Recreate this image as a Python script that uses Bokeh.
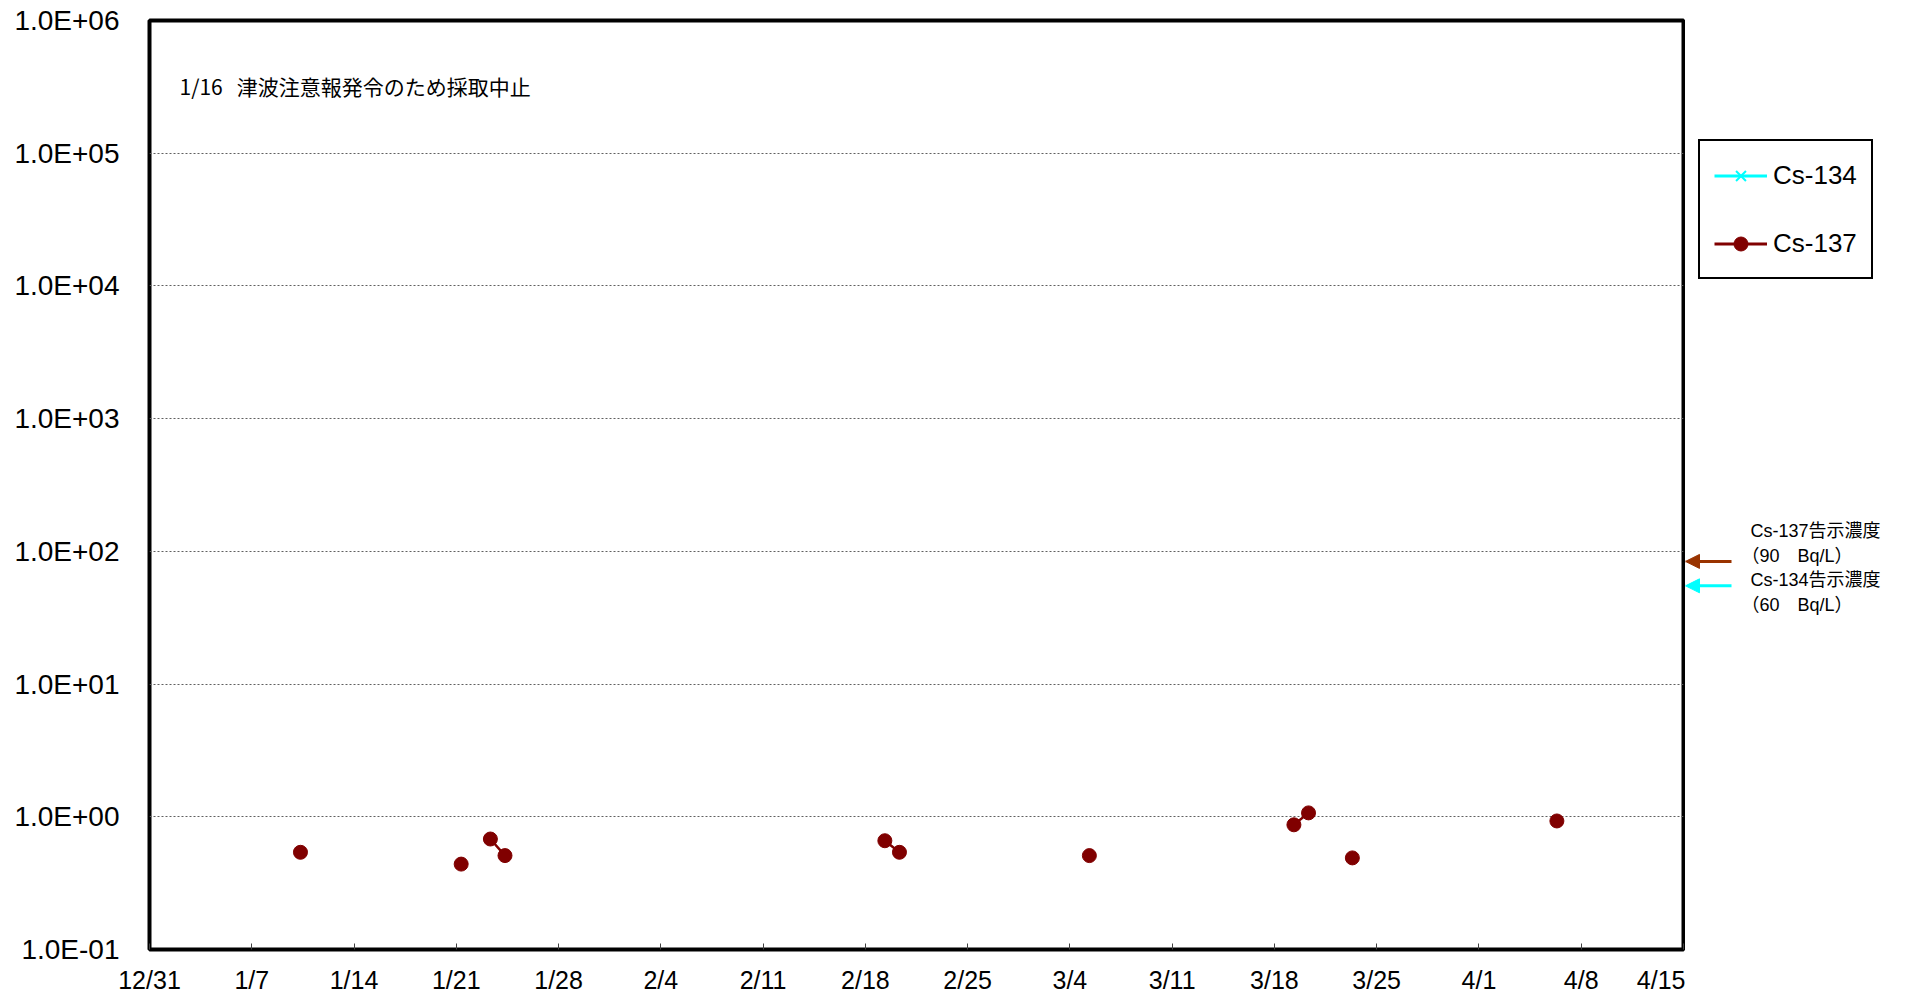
from datetime import datetime, timedelta

from bokeh.plotting import figure
from bokeh.layouts import row
from bokeh.models import (Range1d, FixedTicker, CustomJSTickFormatter, Legend,
                          LegendItem, Label, Arrow, NormalHead)
from bokeh.embed import file_html
from bokeh.resources import INLINE

# ---------------- data ----------------
x_tick_dates = ["2021-12-31", "2022-01-07", "2022-01-14", "2022-01-21",
                "2022-01-28", "2022-02-04", "2022-02-11", "2022-02-18",
                "2022-02-25", "2022-03-04", "2022-03-11", "2022-03-18",
                "2022-03-25", "2022-04-01", "2022-04-08", "2022-04-15"]
y_ticks = [0.1, 1, 10, 100, 1000, 10000, 100000, 1000000]

cs137_dates = ["2022-01-10", "2022-01-21", "2022-01-23", "2022-01-24",
               "2022-02-19", "2022-02-20", "2022-03-05", "2022-03-19",
               "2022-03-20", "2022-03-23", "2022-04-06"]
cs137_values = [0.54, 0.44, 0.68, 0.51, 0.66, 0.54, 0.51, 0.87, 1.07, 0.49, 0.93]
cs134_dates = []      # not detected
cs134_values = []
sample_hour = 8

limit_names = ["Cs-137告示濃度", "Cs-134告示濃度"]
limit_texts = ["（90　Bq/L）", "（60　Bq/L）"]
limit_values = [90, 60]
arrow_levels = [84, 55]          # where the arrows sit in the picture
limit_colors = ["#993300", "#00FFFF"]
note_text = "1/16\u00a0\u00a0\u00a0津波注意報発令のため採取中止"

# ---------------- helpers ----------------
def to_dt(s, hour=0):
    return datetime.strptime(s, "%Y-%m-%d") + timedelta(hours=hour)

def to_ms(d):
    return (d - datetime(1970, 1, 1)).total_seconds() * 1000.0

x_ticks_ms = [to_ms(to_dt(s)) for s in x_tick_dates]
x_start = to_dt(x_tick_dates[0])
x_end = to_dt(x_tick_dates[-1])

pts_x = [to_dt(s, sample_hour) for s in cs137_dates]
line_x, line_y = [], []
prev = None
for d, v in zip(pts_x, cs137_values):
    if prev is not None and (d - prev) > timedelta(days=1):
        line_x.append(prev + timedelta(hours=12))
        line_y.append(float("nan"))
    line_x.append(d)
    line_y.append(v)
    prev = d

FONT = "Liberation Sans"
JFONT = "Liberation Sans, Noto Sans CJK JP"
H = 996
TOP = 20
BOTTOM = 46

# ---------------- main figure ----------------
p = figure(width=1685, height=H, x_axis_type="datetime", y_axis_type="log",
           x_range=Range1d(x_start, x_end), y_range=Range1d(y_ticks[0], y_ticks[-1]),
           output_backend="svg", toolbar_location=None,
           min_border_left=149, min_border_right=2,
           min_border_top=TOP, min_border_bottom=BOTTOM)

p.outline_line_color = "black"
p.outline_line_width = 4
p.background_fill_color = "white"
p.border_fill_color = "white"

p.xgrid.visible = False
p.ygrid.ticker = FixedTicker(ticks=y_ticks)
p.ygrid.grid_line_color = "#606060"
p.ygrid.grid_line_width = 1
p.ygrid.grid_line_dash = "2 2"

p.yaxis.ticker = FixedTicker(ticks=y_ticks)
p.yaxis.formatter = CustomJSTickFormatter(code="""
const s = tick.toExponential(1);
const parts = s.split('e');
const e = parts[1];
const sign = e[0];
const d = e.slice(1).padStart(2, '0');
return parts[0] + 'E' + sign + d;
""")
p.yaxis.axis_line_color = None
p.yaxis.major_tick_line_color = None
p.yaxis.minor_tick_line_color = None
p.yaxis.major_label_standoff = 24
p.yaxis.major_label_text_font = FONT
p.yaxis.major_label_text_font_size = "28px"
p.yaxis.major_label_text_color = "black"

p.xaxis.ticker = FixedTicker(ticks=x_ticks_ms)
p.xaxis.formatter = CustomJSTickFormatter(code="""
const d = new Date(tick);
return (d.getUTCMonth() + 1) + '/' + d.getUTCDate();
""")
p.xaxis.axis_line_color = None
p.xaxis.major_tick_in = 6
p.xaxis.major_tick_out = 0
p.xaxis.major_tick_line_color = "#404040"
p.xaxis.minor_tick_line_color = None
p.xaxis.major_label_standoff = 16
p.xaxis.major_label_text_font = FONT
p.xaxis.major_label_text_font_size = "25px"
p.xaxis.major_label_text_color = "black"

# series
p.line(x=[to_dt(s, sample_hour) for s in cs134_dates], y=cs134_values,
       line_color="#00FFFF", line_width=3)
p.scatter(x=[to_dt(s, sample_hour) for s in cs134_dates], y=cs134_values,
          marker="x", size=14, line_color="#00FFFF", line_width=2)
p.line(x=line_x, y=line_y, line_color="#800000", line_width=2.5)
p.scatter(x=pts_x, y=cs137_values, marker="circle", size=14,
          fill_color="#800000", line_color="#800000")

# note at top-left
p.add_layout(Label(x=x_start, y=y_ticks[-1], x_offset=30, y_offset=-65,
                   text=note_text, text_baseline="middle", text_align="left",
                   text_font="Noto Sans CJK JP", text_font_size="21px",
                   text_color="black"))

# ---------------- side panel (legend + limits) ----------------
SIDE_W = 220
q = figure(width=SIDE_W, height=H, x_range=Range1d(0, SIDE_W),
           y_range=Range1d(y_ticks[0], y_ticks[-1]), y_axis_type="log",
           x_axis_location=None, y_axis_location=None,
           output_backend="svg", toolbar_location=None,
           min_border_left=0, min_border_right=0,
           min_border_top=TOP, min_border_bottom=BOTTOM)
q.outline_line_color = None
q.grid.visible = False
q.background_fill_color = "white"
q.border_fill_color = "white"

# legend-only renderers: their single point lies outside this panel's range
off_x, off_y = [-1000], [1]
q134_line = q.line(x=off_x, y=off_y, line_color="#00FFFF", line_width=3)
q134_pts = q.scatter(x=off_x, y=off_y, marker="x", size=14,
                     line_color="#00FFFF", line_width=2)
q137_line = q.line(x=off_x, y=off_y, line_color="#800000", line_width=3)
q137_pts = q.scatter(x=off_x, y=off_y, marker="circle", size=14,
                     fill_color="#800000", line_color="#800000")

legend = Legend(items=[LegendItem(label="Cs-134", renderers=[q134_line, q134_pts]),
                       LegendItem(label="Cs-137", renderers=[q137_line, q137_pts])],
                location=(13, 670), orientation="vertical",
                border_line_color="black", border_line_width=2, border_line_alpha=1.0,
                background_fill_color="white", background_fill_alpha=1.0,
                padding=14, spacing=28, margin=0,
                glyph_width=53, glyph_height=35, label_height=40,
                label_standoff=6, label_text_font=FONT,
                label_text_font_size="26px", label_text_color="black")
q.add_layout(legend)

name_offsets = [26, 1]
text_offsets = [1, -24]
for name, txt, val, lvl, col, no, to in zip(limit_names, limit_texts, limit_values,
                                            arrow_levels, limit_colors,
                                            name_offsets, text_offsets):
    q.add_layout(Arrow(end=NormalHead(size=14, fill_color=col, line_color=col),
                       x_start=46, y_start=lvl, x_end=0, y_end=lvl,
                       line_color=col, line_width=3))
    q.add_layout(Label(x=65, y=val, y_offset=no, text=name,
                       text_baseline="middle", text_align="left", text_font=JFONT,
                       text_font_size="18px", text_color="black"))
    q.add_layout(Label(x=65, y=val, x_offset=-9, y_offset=to, text=txt,
                       text_baseline="middle", text_align="left", text_font=JFONT,
                       text_font_size="18px", text_color="black"))

layout = row(p, q)
open("out.html", "w").write(file_html(layout, INLINE))
